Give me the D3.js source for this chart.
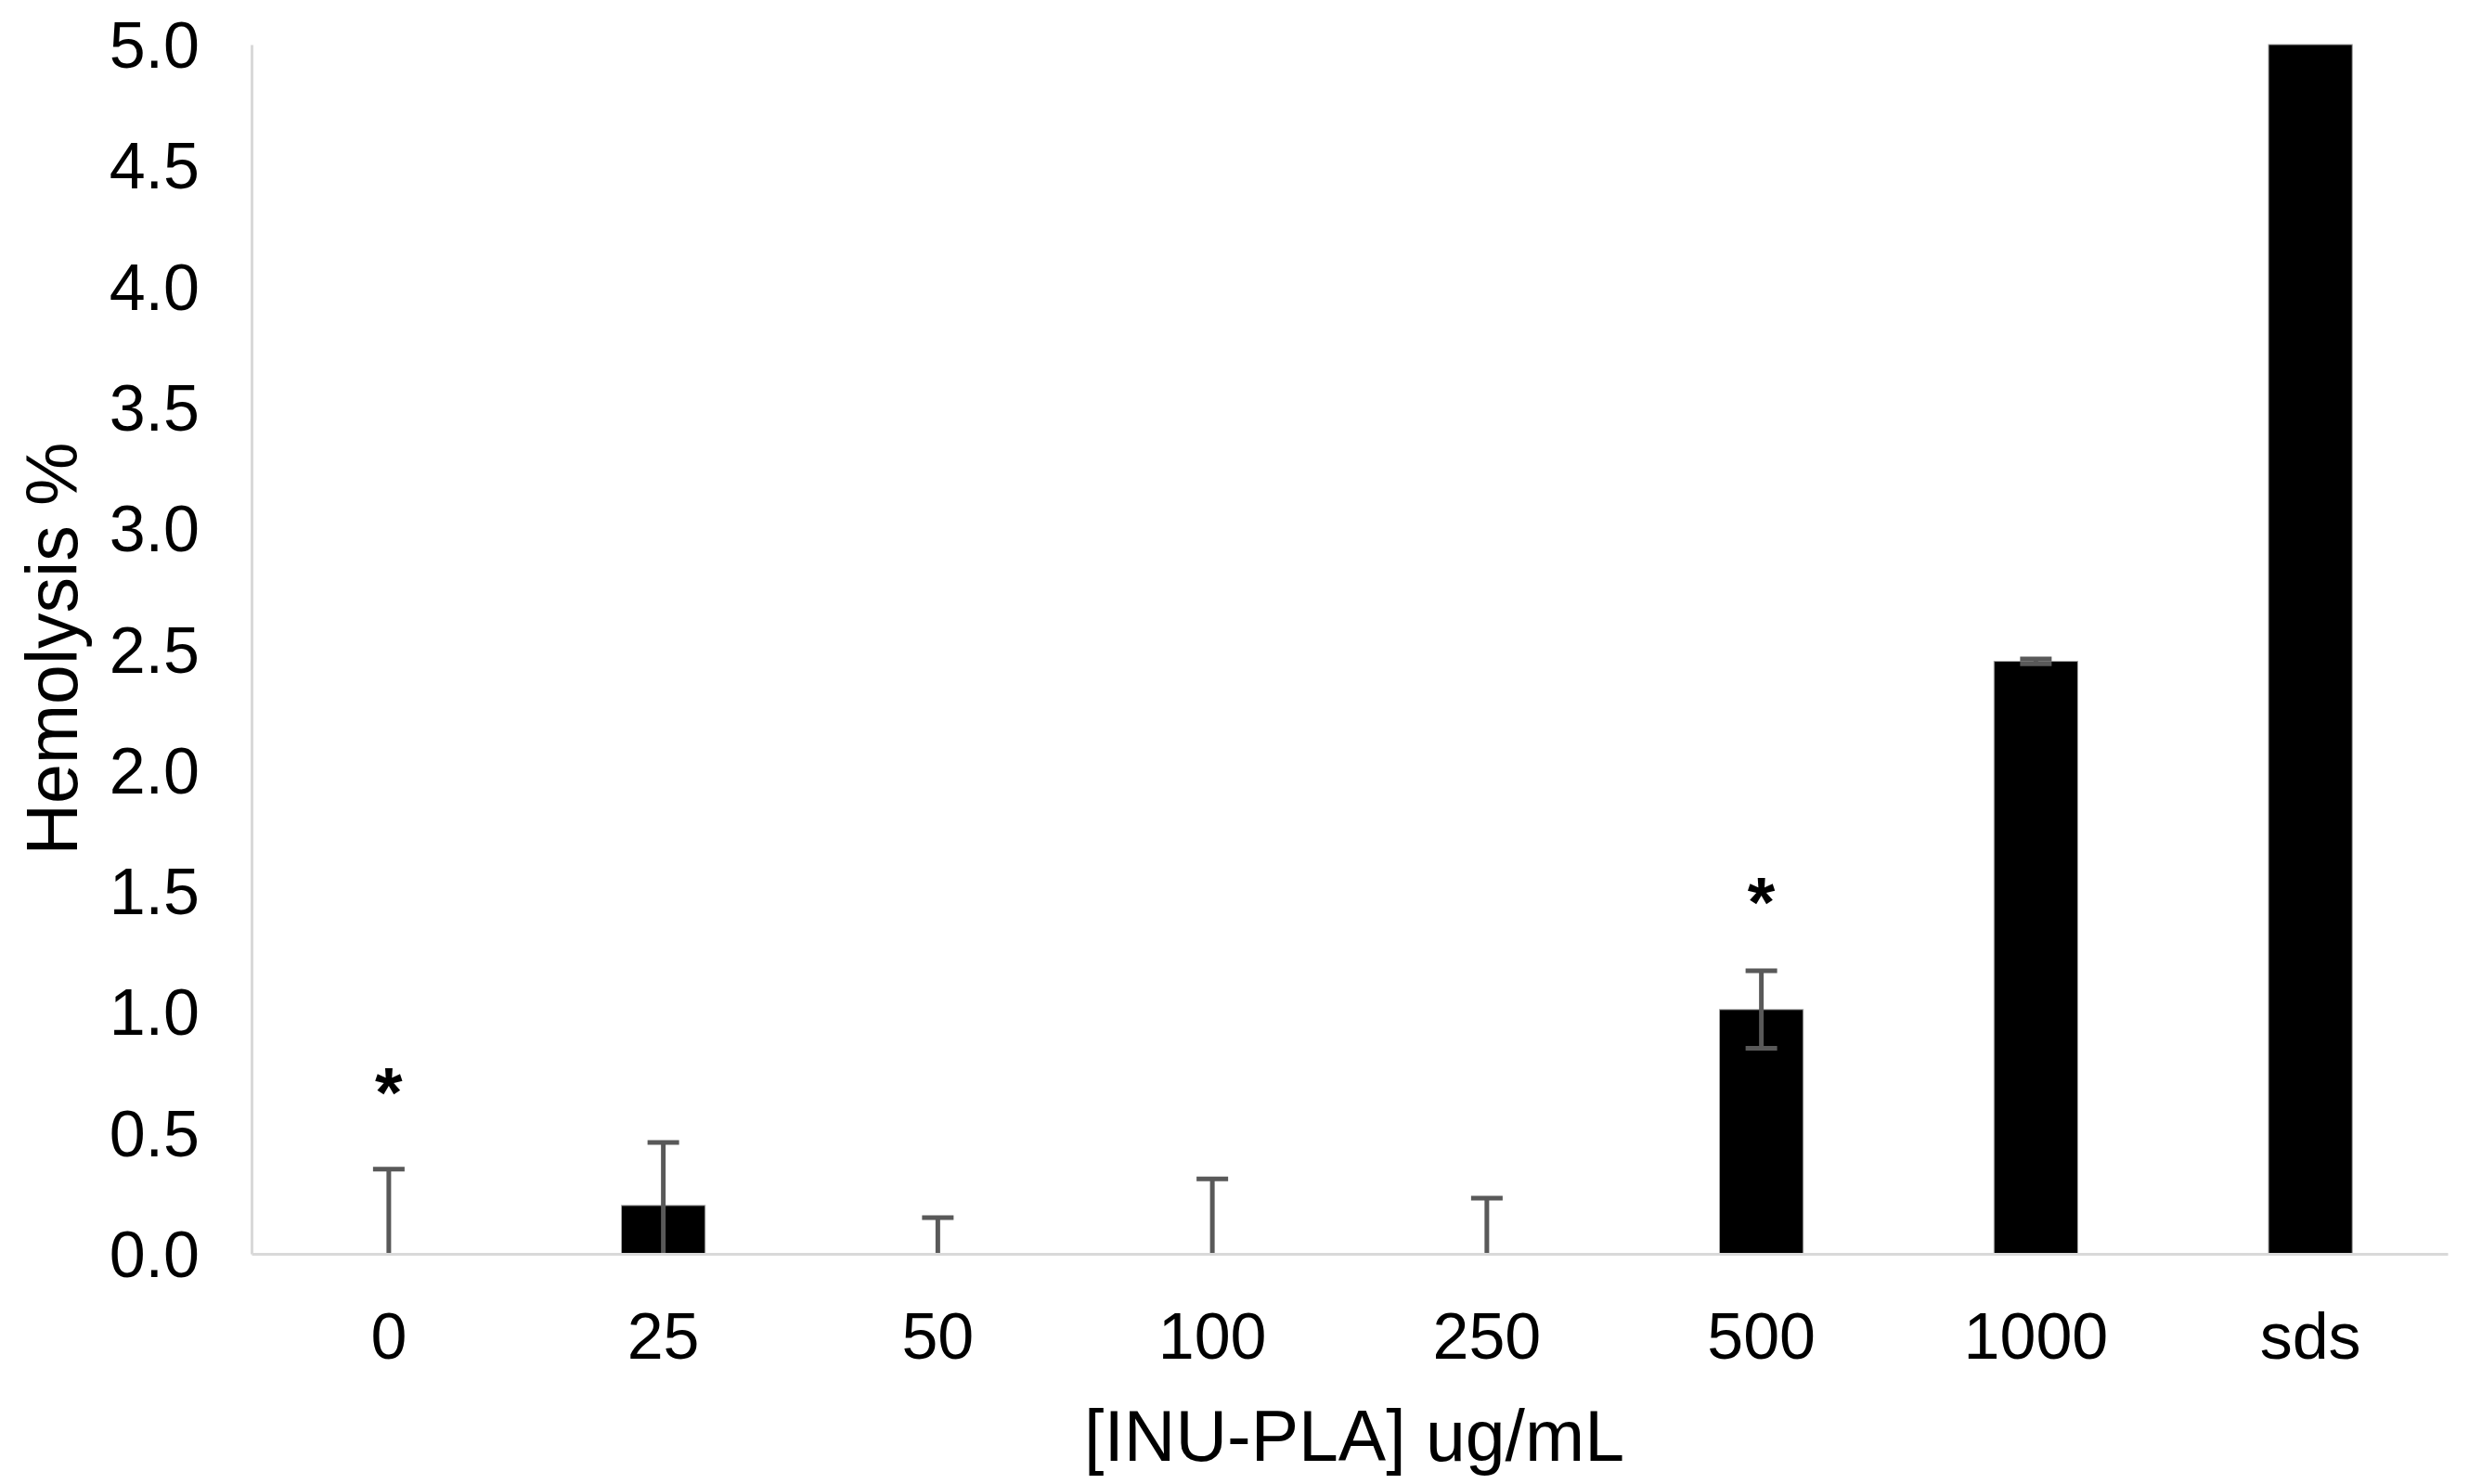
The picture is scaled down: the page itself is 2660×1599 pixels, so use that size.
<!doctype html>
<html>
  <head>
    <script src="https://cdn.jsdelivr.net/npm/d3@7/dist/d3.min.js"></script>
    <style>
      body, html {
        margin: 0;
        background: #fff;
      }
      svg {
        display: block;
        font-family: "Liberation Sans", Arial, sans-serif;
      }
      .axis path.domain {
        stroke: #d9d9d9;
        stroke-width: 3px;
      }
      .axis text {
        fill: #000;
        font-size: 70px;
      }
      rect.bar {
        fill: #000;
        stroke: #a6a6a6;
        stroke-width: 1px;
      }
      line.err {
        stroke: #595959;
        stroke-width: 5px;
      }
      text.title {
        fill: #000;
        font-size: 77px;
      }
      text.star {
        fill: #000;
        font-size: 76px;
        font-weight: bold;
      }
    </style>
  </head>
  <body>
    <svg width="2660" height="1599"></svg>
    <script>

      // values
      var categories = ["0", "25", "50", "100", "250", "500", "1000", "sds"];
      var hemolysis = [0, 0.20, 0, 0, 0, 1.01, 2.45, 5.0];
      var errors = [0.35, 0.26, 0.15, 0.31, 0.23, 0.16, 0.01, 0];
      var yTicks = [0, 0.5, 1, 1.5, 2, 2.5, 3, 3.5, 4, 4.5, 5];
      var starCats = ["0", "500"];
      var starLevels = [0.70, 1.485];

      var rows = categories.map((c, i) => ({ cat: c, v: hemolysis[i], e: errors[i] }));

      var svg = d3.select("svg");

      var x = d3.scaleBand()
        .domain(categories)
        .range([271, 2637])
        .paddingInner(0.695)
        .paddingOuter(0.3475);

      var y = d3.scaleLinear().domain([0, 5]).range([1351, 48]);

      // bars
      svg.append("g")
        .selectAll("rect")
        .data(rows.filter(d => d.v > 0))
        .join("rect")
        .attr("class", "bar")
        .attr("x", d => x(d.cat))
        .attr("width", x.bandwidth())
        .attr("y", d => y(Math.min(d.v, 5)))
        .attr("height", d => y(0) - y(Math.min(d.v, 5)));

      // error bars
      var capW = 34;
      var eb = svg.append("g")
        .selectAll("g")
        .data(rows.filter(d => d.e > 0))
        .join("g")
        .attr("transform", d => `translate(${x(d.cat) + x.bandwidth() / 2},0)`);

      eb.append("line")
        .attr("class", "err")
        .attr("y1", d => y(Math.max(0, d.v - d.e)))
        .attr("y2", d => y(d.v + d.e));

      eb.append("line")
        .attr("class", "err")
        .attr("x1", -capW / 2).attr("x2", capW / 2)
        .attr("y1", d => y(d.v + d.e))
        .attr("y2", d => y(d.v + d.e));

      eb.filter(d => d.v - d.e > 0)
        .append("line")
        .attr("class", "err")
        .attr("x1", -capW / 2).attr("x2", capW / 2)
        .attr("y1", d => y(d.v - d.e))
        .attr("y2", d => y(d.v - d.e));

      // axes
      var yAxis = svg.append("g")
        .attr("class", "axis")
        .attr("transform", "translate(271,0)")
        .call(d3.axisLeft(y).tickValues(yTicks).tickFormat(d3.format(".1f")).tickSize(0).tickSizeOuter(0).tickPadding(56));
      yAxis.selectAll("text").attr("dy", "0.35em");

      var xAxis = svg.append("g")
        .attr("class", "axis")
        .attr("transform", "translate(0,1351)")
        .call(d3.axisBottom(x).tickSize(0).tickSizeOuter(0).tickPadding(0));
      xAxis.selectAll("text").attr("y", 88).attr("dy", "0.35em");

      // significance marks
      svg.append("g")
        .selectAll("text")
        .data(starCats.map((c, i) => ({ cat: c, lv: starLevels[i] })))
        .join("text")
        .attr("class", "star")
        .attr("text-anchor", "middle")
        .attr("x", d => x(d.cat) + x.bandwidth() / 2)
        .attr("y", d => y(d.lv) + 34)
        .text("*");

      // titles
      svg.append("text")
        .attr("class", "title")
        .attr("text-anchor", "middle")
        .attr("x", 1459)
        .attr("y", 1547)
        .attr("dy", "0.35em")
        .text("[INU-PLA]  ug/mL");

      svg.append("text")
        .attr("class", "title")
        .attr("text-anchor", "middle")
        .attr("transform", "translate(56,699) rotate(-90)")
        .attr("dy", "0.35em")
        .text("Hemolysis %");

    </script>
  </body>
</html>
